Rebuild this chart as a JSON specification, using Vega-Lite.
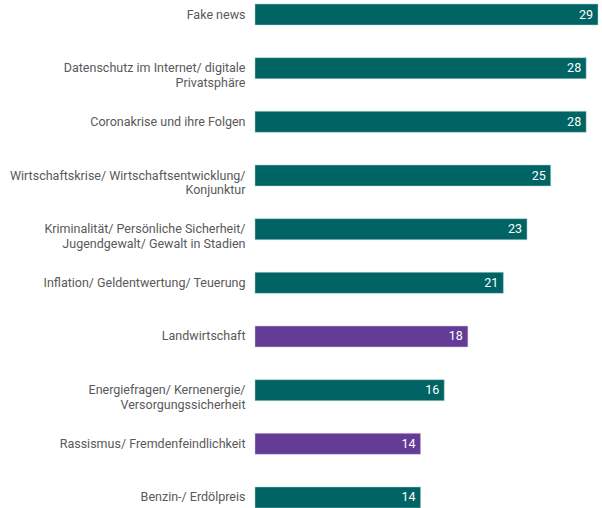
{
  "$schema": "https://vega.github.io/schema/vega-lite/v6.json",
  "autosize": {"type": "none"},
  "width": 343,
  "height": 512,
  "padding": {"left": 255, "top": 0, "right": 4, "bottom": 0},
  "background": "white",
  "view": {"stroke": null},
  "data": {
    "values": [
      {"topic": "Fake news", "value": 29, "group": "a"},
      {"topic": "Datenschutz im Internet/ digitale|Privatsphäre", "value": 28, "group": "a"},
      {"topic": "Coronakrise und ihre Folgen", "value": 28, "group": "a"},
      {"topic": "Wirtschaftskrise/ Wirtschaftsentwicklung/|Konjunktur", "value": 25, "group": "a"},
      {"topic": "Kriminalität/ Persönliche Sicherheit/|Jugendgewalt/ Gewalt in Stadien", "value": 23, "group": "a"},
      {"topic": "Inflation/ Geldentwertung/ Teuerung", "value": 21, "group": "a"},
      {"topic": "Landwirtschaft", "value": 18, "group": "b"},
      {"topic": "Energiefragen/ Kernenergie/|Versorgungssicherheit", "value": 16, "group": "a"},
      {"topic": "Rassismus/ Fremdenfeindlichkeit", "value": 14, "group": "b"},
      {"topic": "Benzin-/ Erdölpreis", "value": 14, "group": "a"}
    ]
  },
  "encoding": {
    "y": {
      "field": "topic",
      "type": "nominal",
      "sort": null,
      "scale": {"paddingInner": 0.609, "paddingOuter": 0.075},
      "axis": {
        "title": null,
        "domain": false,
        "ticks": false,
        "labelPadding": 10,
        "labelFont": "Roboto",
        "labelFontSize": 12.5,
        "labelColor": "#595959",
        "labelLineHeight": 14.5,
        "labelLimit": 300,
        "labelExpr": "split(datum.label, '|')"
      }
    },
    "x": {
      "field": "value",
      "type": "quantitative",
      "scale": {"domain": [0, 29], "nice": false},
      "axis": null
    }
  },
  "layer": [
    {
      "mark": {"type": "bar", "strokeWidth": 1, "strokeOpacity": 0.5},
      "encoding": {
        "color": {
          "field": "group",
          "type": "nominal",
          "scale": {"domain": ["a", "b"], "range": ["#006464", "#643c96"]},
          "legend": null
        },
        "stroke": {
          "field": "group",
          "type": "nominal",
          "scale": {"domain": ["a", "b"], "range": ["#b3d1d1", "#d5c5ea"]},
          "legend": null
        }
      }
    },
    {
      "mark": {"type": "text", "align": "right", "dx": -5, "color": "white", "font": "Roboto", "fontSize": 12.5},
      "encoding": {"text": {"field": "value", "type": "quantitative"}}
    }
  ]
}
